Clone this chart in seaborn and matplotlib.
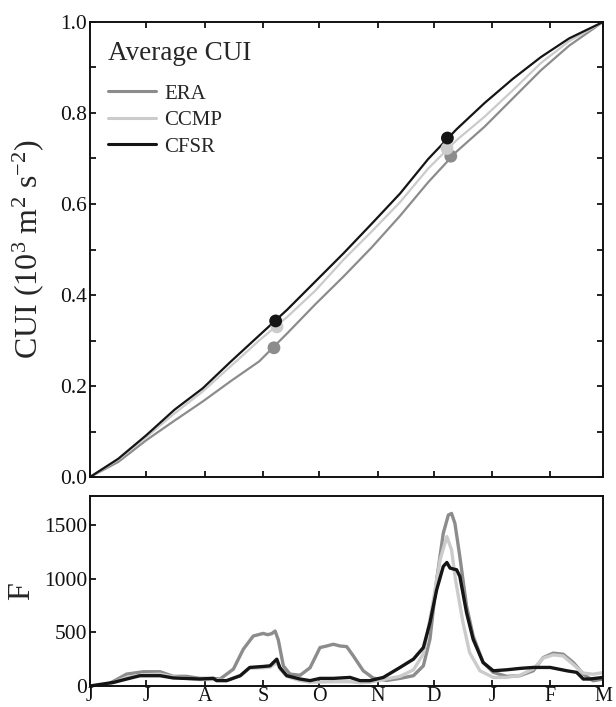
import numpy as np
import pandas as pd
import matplotlib
matplotlib.use("Agg")
import matplotlib.pyplot as plt
from matplotlib.lines import Line2D
import seaborn as sns

# ---------------- data ----------------
month_ticks = [0, 30, 61, 92, 122, 153, 183, 214, 245, 273]
month_labels = ["J", "J", "A", "S", "O", "N", "D", "J", "F", "M"]
series = ["ERA", "CCMP", "CFSR"]

# top panel: cumulative upwelling index (normalised)
cui_days = [0, 15, 30, 45, 60, 75, 90, 105, 120, 135, 150, 165, 180, 195, 210, 225, 240, 255, 273]
cui_era = [0, 0.033, 0.081, 0.124, 0.166, 0.211, 0.254, 0.316, 0.380, 0.441, 0.505, 0.574, 0.648,
           0.715, 0.770, 0.832, 0.894, 0.948, 1.0]
cui_ccmp = [0, 0.038, 0.088, 0.140, 0.188, 0.244, 0.300, 0.352, 0.410, 0.478, 0.540, 0.604, 0.678,
            0.740, 0.792, 0.850, 0.910, 0.958, 1.0]
cui_cfsr = [0, 0.040, 0.092, 0.148, 0.195, 0.254, 0.311, 0.368, 0.430, 0.492, 0.557, 0.623, 0.699,
            0.764, 0.822, 0.875, 0.923, 0.964, 1.0]

# markers on the top panel (day, value)
dot_era_days = [97.9, 192.0]
dot_era_vals = [0.284, 0.705]
dot_ccmp_days = [99.5, 190.0]
dot_ccmp_vals = [0.330, 0.722]
dot_cfsr_days = [98.8, 190.2]
dot_cfsr_vals = [0.343, 0.745]

# bottom panel: F
f_era_days = [0, 5, 10, 19.5, 28.4, 37.3, 44.3, 51.4, 58.5, 65.6, 69.2, 76.3, 81.6, 86.9, 92.2, 94.5,
              96.7, 98.5, 100.2, 102.9, 106.4, 111.8, 117.1, 122.4, 126, 129.5, 133, 136.6, 140.1,
              145.4, 150.7, 157.8, 165, 172.1, 177.4, 180.9, 184.5, 188, 190.7, 192.4, 194.2, 196.8,
              200.4, 203.9, 209.2, 214.6, 221.7, 228.8, 235.9, 241.2, 246.5, 251.8, 257.2, 262.5,
              267.8, 273]
f_era = [0, 2, 20, 111, 133, 133, 90, 90, 71, 71, 65, 157, 343, 466, 490, 478, 488, 512, 430, 188,
         111, 100, 170, 358, 373, 389, 373, 367, 281, 142, 74, 52, 71, 96, 188, 435, 991, 1423, 1593,
         1608, 1515, 1207, 744, 466, 219, 127, 90, 96, 142, 265, 306, 296, 219, 111, 49, 65]

f_ccmp_days = [0, 10, 19.5, 28.4, 37.3, 44.3, 58.5, 65.6, 72.7, 80, 85, 92.2, 95.8, 99.4, 101, 104.7,
               111.8, 117.1, 129.5, 138.4, 143.7, 149, 156.1, 165, 172.1, 177.4, 180.9, 182.8, 186.3,
               189.9, 192.4, 194.5, 198.5, 202, 207.5, 214.6, 221.7, 228.8, 235.9, 241.2, 246.5,
               251.8, 257.2, 262.5, 267.8, 273]
f_ccmp = [0, 15, 80, 105, 110, 85, 60, 60, 50, 100, 165, 170, 175, 220, 160, 90, 50, 35, 40, 40, 30,
          35, 60, 90, 150, 300, 620, 806, 1176, 1392, 1269, 991, 590, 312, 142, 80, 80, 100, 160, 260,
          290, 280, 200, 120, 110, 125]

f_cfsr_days = [0, 12.6, 19.5, 26.6, 37.3, 44.3, 58.5, 65.6, 67.4, 72.7, 80, 85, 92.2, 95.8, 99.4,
               101, 104.7, 111.8, 117.1, 122.4, 129.5, 138.4, 143.7, 149, 156.1, 165, 172.1, 177.4,
               180.9, 184.5, 188, 189.9, 191.6, 193.4, 195.1, 196.8, 200.4, 203.9, 209.2, 214.6,
               221.7, 228.8, 235.9, 244.9, 253.7, 259, 262.5, 266, 273]
f_cfsr = [0, 34, 65, 96, 96, 75, 65, 71, 50, 50, 96, 173, 182, 188, 250, 173, 96, 65, 50, 71, 71, 80,
          50, 50, 80, 173, 250, 358, 590, 898, 1114, 1151, 1099, 1090, 1083, 1022, 682, 435, 219, 142,
          151, 164, 173, 173, 142, 127, 65, 65, 80]

colors = {"ERA": "#8c8c8c", "CCMP": "#cbcbcb", "CFSR": "#151515"}

# ---------------- frames ----------------
top_df = pd.concat([
    pd.DataFrame({"day": cui_days, "val": cui_era, "src": "ERA"}),
    pd.DataFrame({"day": cui_days, "val": cui_ccmp, "src": "CCMP"}),
    pd.DataFrame({"day": cui_days, "val": cui_cfsr, "src": "CFSR"}),
], ignore_index=True)
dot_df = pd.concat([
    pd.DataFrame({"day": dot_era_days, "val": dot_era_vals, "src": "ERA"}),
    pd.DataFrame({"day": dot_ccmp_days, "val": dot_ccmp_vals, "src": "CCMP"}),
    pd.DataFrame({"day": dot_cfsr_days, "val": dot_cfsr_vals, "src": "CFSR"}),
], ignore_index=True)
bot_df = pd.concat([
    pd.DataFrame({"day": f_era_days, "val": f_era, "src": "ERA"}),
    pd.DataFrame({"day": f_ccmp_days, "val": f_ccmp, "src": "CCMP"}),
    pd.DataFrame({"day": f_cfsr_days, "val": f_cfsr, "src": "CFSR"}),
], ignore_index=True)

# ---------------- style ----------------
sns.set_theme(style="ticks")
plt.rcParams["font.family"] = ["Liberation Serif", "DejaVu Serif"]
plt.rcParams["mathtext.fontset"] = "custom"
plt.rcParams["mathtext.rm"] = "Liberation Serif"
plt.rcParams["mathtext.it"] = "Liberation Serif:italic"
plt.rcParams["axes.linewidth"] = 1.4
plt.rcParams["axes.edgecolor"] = "#111111"

fig = plt.figure(figsize=(6.16, 7.07), dpi=100)
ax1 = fig.add_axes([0.1461, 0.3253, 0.8328, 0.6436])
ax2 = fig.add_axes([0.1461, 0.0297, 0.8328, 0.2687])

TICK_FS = 15.5

# top panel
sns.lineplot(data=top_df, x="day", y="val", hue="src", hue_order=series, palette=colors,
             linewidth=1.6, ax=ax1, legend=False, estimator=None, sort=False)
for s in series:
    d = dot_df[dot_df["src"] == s]
    sns.scatterplot(x=d["day"], y=d["val"], color=colors[s], s=85, edgecolor="none",
                    ax=ax1, legend=False, zorder=5 + series.index(s))

ax1.set_xlim(0, 273)
ax1.set_ylim(0, 1.0)
ax1.set_xticks(month_ticks)
ax1.set_xticklabels([])
ax1.set_yticks(np.arange(0, 1.01, 0.2))
ax1.set_yticklabels(["0.0", "0.2", "0.4", "0.6", "0.8", "1.0"])
ax1.set_yticks(np.arange(0.1, 1.0, 0.2), minor=True)
ax1.tick_params(axis="both", which="both", direction="in", top=True, right=True,
                length=4.5, width=1.3, labelsize=TICK_FS, pad=2, colors="#111111")
ax1.set_xlabel("")
ax1.set_ylabel(r"CUI (10$^{\mathregular{3}}$ m$^{\mathregular{2}}$ s$^{\mathregular{-2}}$)",
               fontsize=23, labelpad=10)

handles = [Line2D([0], [0], color=colors[s], lw=2.2) for s in series]
leg = ax1.legend(handles, series, title="Average CUI", loc="upper left", frameon=False,
                 fontsize=15, title_fontsize=19.5, handlelength=2.3, handletextpad=0.4,
                 labelspacing=0.33, alignment="left", bbox_to_anchor=(0.006, 0.99),
                 borderaxespad=0.3)
leg._legend_box.sep = 13

# bottom panel
sns.lineplot(data=bot_df, x="day", y="val", hue="src", hue_order=series, palette=colors,
             linewidth=2.4, ax=ax2, legend=False, estimator=None, sort=False)
ax2.set_xlim(0, 273)
ax2.set_ylim(0, 1770)
ax2.set_xticks(month_ticks)
ax2.set_xticklabels(month_labels)
ax2.set_yticks([0, 500, 1000, 1500])
ax2.tick_params(axis="both", direction="in", length=4.5, width=1.3, labelsize=TICK_FS, pad=2,
                colors="#111111")
ax2.tick_params(axis="x", labelsize=14.5, pad=1)
ax2.set_xlabel("")
ax2.set_ylabel("F", fontsize=23, labelpad=6)

fig.savefig("out.png", dpi=100)
